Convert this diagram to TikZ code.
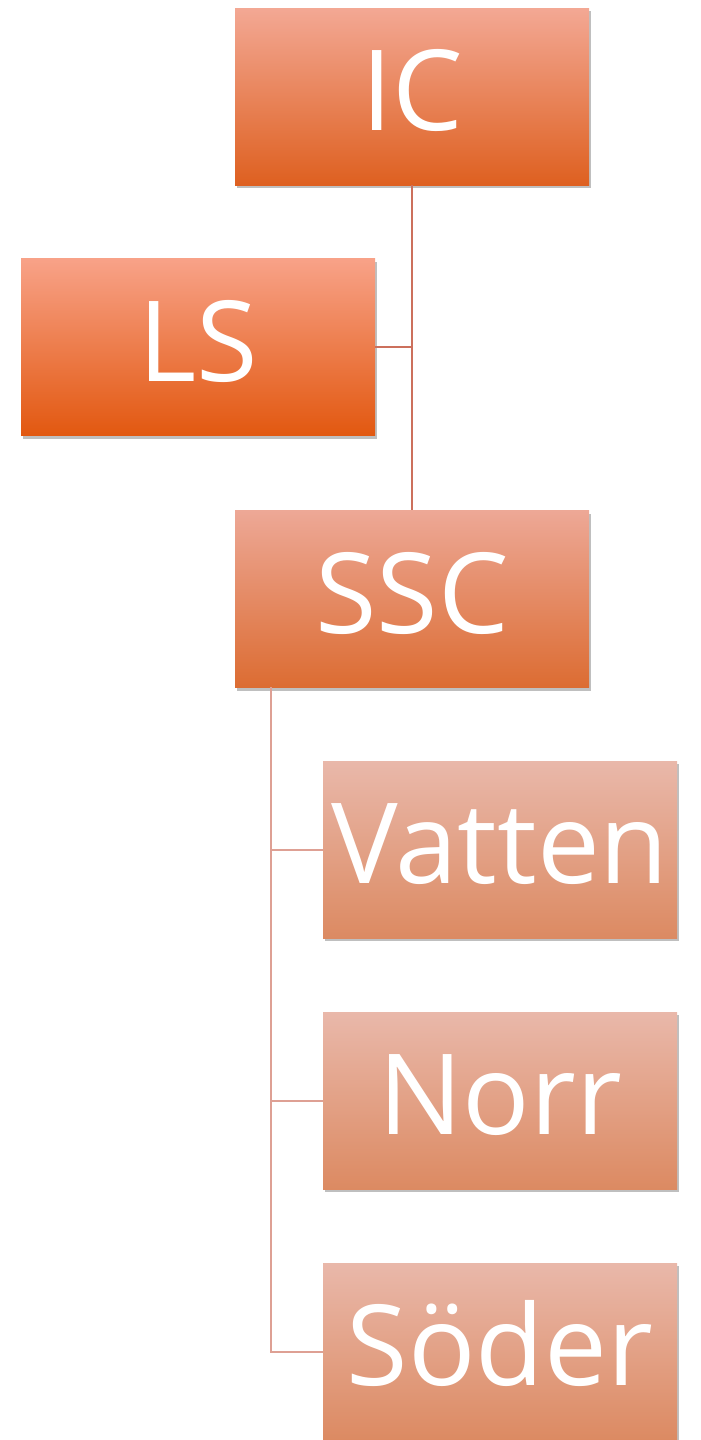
\documentclass[tikz,border=0pt]{standalone}
\usepackage{fontspec}
\setmainfont{Open Sans}
\usetikzlibrary{shadows}
\definecolor{ICtop}{RGB}{243,168,148}
\definecolor{ICbot}{RGB}{222,96,32}
\definecolor{LStop}{RGB}{248,162,136}
\definecolor{LSbot}{RGB}{226,88,16}
\definecolor{SSCtop}{RGB}{237,168,150}
\definecolor{SSCbot}{RGB}{220,108,50}
\definecolor{SUBtop}{RGB}{233,184,170}
\definecolor{SUBbot}{RGB}{220,138,98}
\definecolor{LinkA}{RGB}{204,112,92}
\definecolor{LinkB}{RGB}{222,160,148}
\newcommand{\orgnode}[5]{\node[orgbox, top color=#4, bottom color=#5] (#1) at (#2) {#3};}
\tikzset{
  orgbox/.style={minimum width=177pt, minimum height=88.5pt, inner sep=0pt,
    text height=40pt, text depth=6pt,
    text=white, font=\fontsize{56}{60}\selectfont,
    drop shadow={shadow xshift=0.8pt, shadow yshift=-1.6pt, opacity=0.25, fill=black}},
  linkA/.style={draw=LinkA, line width=1pt},
  linkB/.style={draw=LinkB, line width=1pt}
}
\begin{document}
\begin{tikzpicture}[x=0.5pt,y=-0.5pt]
\useasboundingbox (0,0) rectangle (701,1440);
\orgnode{ic}{412,96.5}{IC}{ICtop}{ICbot}
\orgnode{ls}{198,347}{LS}{LStop}{LSbot}
\orgnode{ssc}{412,599}{SSC}{SSCtop}{SSCbot}
\orgnode{vatten}{500,849.5}{Vatten}{SUBtop}{SUBbot}
\orgnode{norr}{500,1100.5}{Norr}{SUBtop}{SUBbot}
\orgnode{soder}{500,1351.5}{Söder}{SUBtop}{SUBbot}
% connectors
\draw[linkA] (ic.south) -- (ssc.north);
\draw[linkA] (ls.east) -- (ls.east -| ic.south);
\coordinate (sscleg) at (271,687);
\draw[linkB] (sscleg) |- (soder.west);
\foreach \sub in {vatten,norr}{
  \draw[linkB] (sscleg |- \sub.west) -- (\sub.west);
}
\end{tikzpicture}
\end{document}
